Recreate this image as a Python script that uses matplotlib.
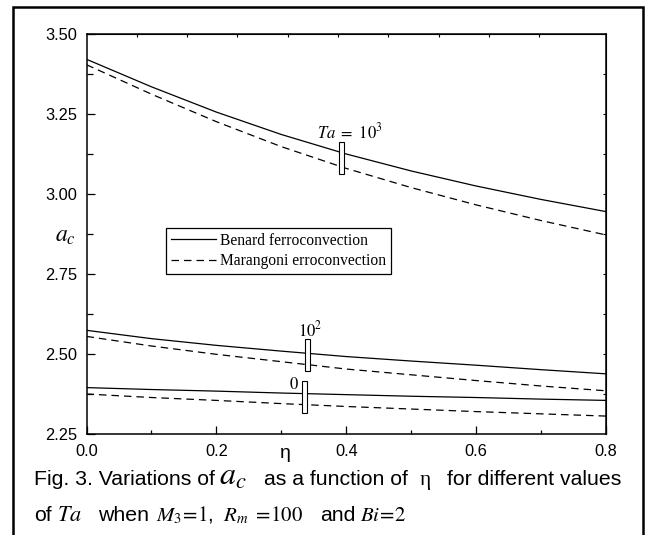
import numpy as np
import matplotlib
matplotlib.use("Agg")
import matplotlib.pyplot as plt
from matplotlib.patches import Rectangle
from matplotlib.ticker import MultipleLocator, FormatStrFormatter

plt.rcParams["font.family"] = ["Liberation Sans", "DejaVu Sans"]
plt.rcParams["mathtext.fontset"] = "stix"

# data
eta = [0.0, 0.1, 0.2, 0.3, 0.4, 0.5, 0.6, 0.7, 0.8]

benard_1e3 = [3.421, 3.335, 3.256, 3.186, 3.125, 3.072, 3.025, 2.983, 2.945]
marangoni_1e3 = [3.404, 3.312, 3.226, 3.148, 3.080, 3.020, 2.966, 2.917, 2.872]

benard_1e2 = [2.574, 2.548, 2.527, 2.509, 2.492, 2.478, 2.465, 2.451, 2.438]
marangoni_1e2 = [2.555, 2.525, 2.499, 2.476, 2.453, 2.435, 2.417, 2.400, 2.385]

benard_0 = [2.395, 2.389, 2.384, 2.378, 2.373, 2.368, 2.364, 2.359, 2.355]
marangoni_0 = [2.375, 2.364, 2.355, 2.345, 2.336, 2.328, 2.320, 2.313, 2.306]

# Ta label markers: x position, lower and upper end of the little box
marker_x = [0.393, 0.340, 0.336]
marker_lo = [3.0625, 2.447, 2.317]
marker_hi = [3.1625, 2.547, 2.417]

W, H = 649, 535


def fx(px):
    return px / W


def fy(py):
    return 1 - py / H


fig = plt.figure(figsize=(6.49, 5.35), dpi=100)
ax = fig.add_axes([fx(86.5), fy(434), fx(606) - fx(86.5), fy(34) - fy(434)])

dash = (0, (6, 4))
ax.plot(eta, benard_1e3, color="black", lw=0.9, label="Benard ferroconvection")
ax.plot(eta, marangoni_1e3, color="black", lw=0.9, ls=dash, label="Marangoni erroconvection")
ax.plot(eta, benard_1e2, color="black", lw=0.9)
ax.plot(eta, marangoni_1e2, color="black", lw=0.9, ls=dash)
ax.plot(eta, benard_0, color="black", lw=0.9)
ax.plot(eta, marangoni_0, color="black", lw=0.9, ls=dash)

# small open boxes marking each Ta pair
w = 0.0078
for x, lo, hi in zip(marker_x, marker_lo, marker_hi):
    ax.add_patch(Rectangle((x - w / 2, lo), w, hi - lo, facecolor="white",
                           edgecolor="black", lw=0.8, zorder=5))

ax.text(0.3545, 3.175, r"$Ta\ =\ 10^3$", fontsize=12, va="baseline", ha="left")
ax.text(0.344, 2.556, r"$10^2$", fontsize=12, va="baseline", ha="center")
ax.text(0.312, 2.391, r"$0$", fontsize=12, va="baseline", ha="left")

ax.set_xlim(0.0, 0.8)
ax.set_ylim(2.25, 3.50)
ax.xaxis.set_major_locator(MultipleLocator(0.2))
ax.xaxis.set_minor_locator(MultipleLocator(0.1))
ax.xaxis.set_major_formatter(FormatStrFormatter("%.1f"))
ax.yaxis.set_major_locator(MultipleLocator(0.25))
ax.yaxis.set_minor_locator(MultipleLocator(0.125))
ax.yaxis.set_major_formatter(FormatStrFormatter("%.2f"))
ax.tick_params(which="both", direction="in", top=False, right=False, labelsize=11.8, width=0.9)
ax.tick_params(axis="x", which="major", length=6, pad=7)
ax.tick_params(axis="x", which="minor", length=3)
ax.tick_params(axis="y", which="major", length=6, pad=6.5)
ax.tick_params(axis="y", which="minor", length=4)
for s in ax.spines.values():
    s.set_linewidth(1.1)

# top and right axes have their own small ticks, no labels
top = ax.secondary_xaxis("top")
top.set_xticks(np.arange(1, 10) * 0.0775)
top.tick_params(direction="in", length=2, width=0.8, labeltop=False)
right = ax.secondary_yaxis("right")
right.set_yticks(np.arange(2.375, 3.5, 0.125))
right.tick_params(direction="in", length=2.5, width=0.8, labelright=False)

leg = ax.legend(loc="upper left", bbox_to_anchor=(fx(166), fy(228)),
                bbox_transform=fig.transFigure, borderaxespad=0,
                frameon=True, fancybox=False, framealpha=1, edgecolor="black",
                prop={"family": "Liberation Serif", "size": 11.2},
                handlelength=2.9, handletextpad=0.3, borderpad=0.3,
                labelspacing=0.3)
leg.get_frame().set_linewidth(0.9)

# axis labels
fig.text(fx(55), fy(242), r"$a_c$", fontsize=17, ha="left", va="baseline")
fig.text(fx(285), fy(458), "η", fontsize=14, ha="center", va="baseline")

# caption, two lines
cap = 15.3
y1 = fy(485)
fig.text(fx(34), y1, "Fig. 3. Variations of", fontsize=cap, va="baseline")
fig.text(fx(219), y1, r"$a_c$", fontsize=23, va="baseline")
fig.text(fx(264), y1, "as a function of", fontsize=cap, va="baseline")
fig.text(fx(420), y1, "η", fontsize=cap, va="baseline", family="Liberation Serif")
fig.text(fx(447), y1, "for different values", fontsize=cap, va="baseline")

y2 = fy(521)
fig.text(fx(34), y2, "of", fontsize=cap, va="baseline")
fig.text(fx(57), y2, r"$Ta$", fontsize=16, va="baseline")
fig.text(fx(98), y2, "when", fontsize=cap, va="baseline")
fig.text(fx(156), y2, r"$M_3\!=\!1$,", fontsize=15, va="baseline")
fig.text(fx(223), y2, r"$R_m\ =\!100$", fontsize=15, va="baseline")
fig.text(fx(320), y2, "and", fontsize=cap, va="baseline")
fig.text(fx(360), y2, r"$Bi\!=\!2$", fontsize=15, va="baseline")

# outer frame round the whole figure
fig.patches.append(Rectangle((fx(13), -0.02), fx(643) - fx(13), fy(7) + 0.02,
                             transform=fig.transFigure, fill=False,
                             edgecolor="black", lw=1.8))

plt.savefig("out.png", dpi=100)
